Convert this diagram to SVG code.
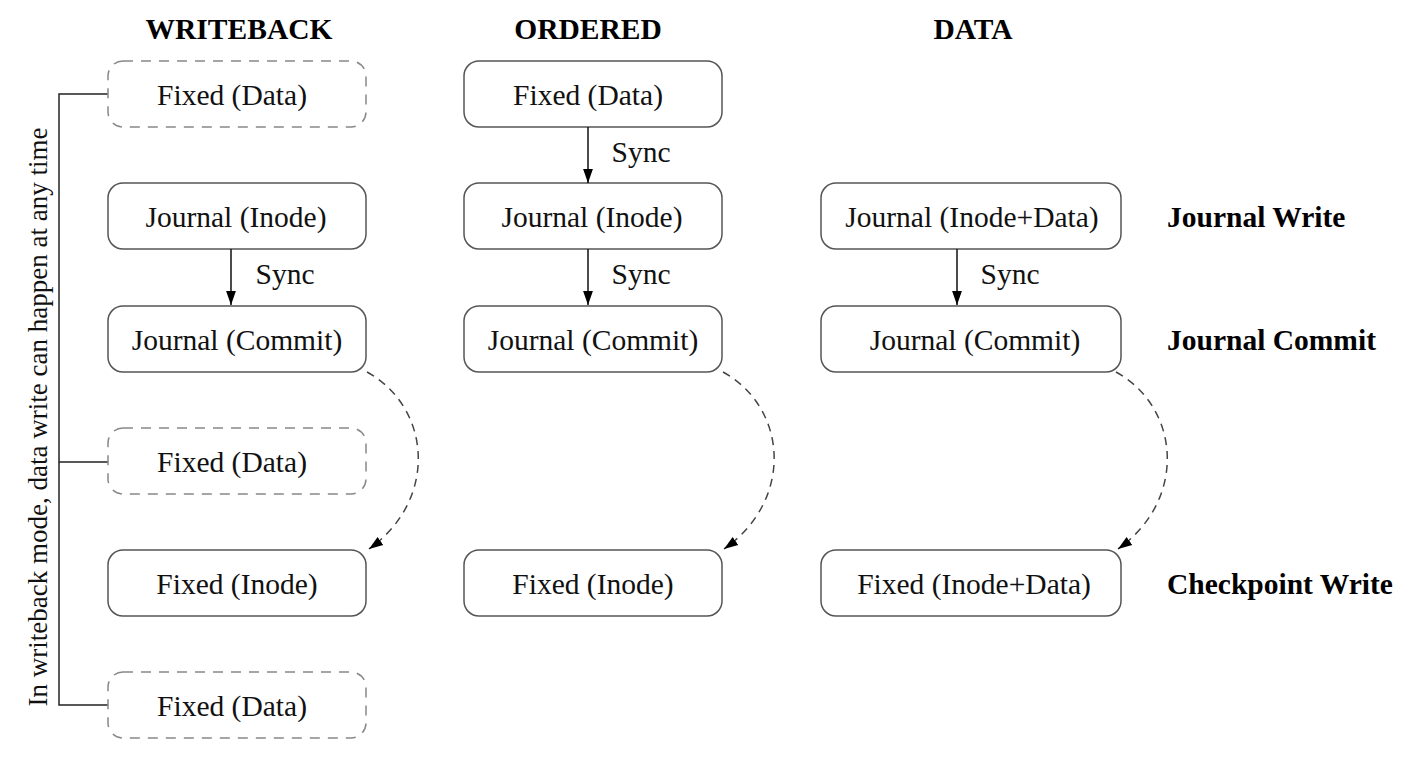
<svg xmlns="http://www.w3.org/2000/svg" width="1418" height="760" viewBox="0 0 1418 760">
<style>
.t{font-family:"Liberation Serif","Times New Roman",serif;font-size:29.5px;fill:#111;text-anchor:middle}
.v{font-family:"Liberation Serif","Times New Roman",serif;font-size:27px;fill:#111;text-anchor:middle}
.b{font-family:"Liberation Serif","Times New Roman",serif;font-size:29.5px;font-weight:bold;fill:#000}
.box{fill:#fff;stroke:#555;stroke-width:1.5}
.dbox{fill:#fff;stroke:#888;stroke-width:1.5;stroke-dasharray:10 8}
.arr{stroke:#111;stroke-width:1.5;fill:none;marker-end:url(#ah)}
.cur{stroke:#444;stroke-width:1.5;fill:none;stroke-dasharray:8 6;marker-end:url(#ah)}
.br{stroke:#222;stroke-width:1.5;fill:none}
</style>
<defs>
<marker id="ah" viewBox="0 0 10 10" refX="10" refY="5" markerWidth="14" markerHeight="14" markerUnits="userSpaceOnUse" orient="auto">
<path d="M0,1.5 L10,5 L0,8.5 z" fill="#000"/>
</marker>
</defs>
<rect width="1418" height="760" fill="#fff"/>
<g id="titles">
<text class="b" x="239" y="39" text-anchor="middle">WRITEBACK</text>
<text class="b" x="588" y="39" text-anchor="middle">ORDERED</text>
<text class="b" x="973" y="39" text-anchor="middle">DATA</text>
<text class="b" x="1167" y="227">Journal Write</text>
<text class="b" x="1167" y="350">Journal Commit</text>
<text class="b" x="1167" y="594">Checkpoint Write</text>
</g>
<g id="bracket">
<path class="br" d="M108,94 H59 V705 H108 M59,462 H108"/>
<text class="v" transform="translate(47,417) rotate(-90)">In writeback mode, data write can happen at any time</text>
</g>
<g id="wb-fixed-data-1"><rect class="dbox" x="108" y="61" width="258" height="66" rx="15"/><text class="t" x="232" y="105">Fixed (Data)</text></g>
<g id="wb-journal-inode"><rect class="box" x="108" y="183" width="258" height="66" rx="15"/><text class="t" x="236" y="227">Journal (Inode)</text></g>
<g id="wb-journal-commit"><rect class="box" x="108" y="306" width="258" height="66" rx="15"/><text class="t" x="237" y="350">Journal (Commit)</text></g>
<g id="wb-fixed-data-2"><rect class="dbox" x="108" y="428" width="258" height="66" rx="15"/><text class="t" x="232" y="472">Fixed (Data)</text></g>
<g id="wb-fixed-inode"><rect class="box" x="108" y="550" width="258" height="66" rx="15"/><text class="t" x="237" y="594">Fixed (Inode)</text></g>
<g id="wb-fixed-data-3"><rect class="dbox" x="108" y="672" width="258" height="66" rx="15"/><text class="t" x="232" y="716">Fixed (Data)</text></g>

<g id="or-fixed-data"><rect class="box" x="464" y="61" width="258" height="66" rx="15"/><text class="t" x="588" y="105">Fixed (Data)</text></g>
<g id="or-journal-inode"><rect class="box" x="464" y="183" width="258" height="66" rx="15"/><text class="t" x="592" y="227">Journal (Inode)</text></g>
<g id="or-journal-commit"><rect class="box" x="464" y="306" width="258" height="66" rx="15"/><text class="t" x="593" y="350">Journal (Commit)</text></g>
<g id="or-fixed-inode"><rect class="box" x="464" y="550" width="258" height="66" rx="15"/><text class="t" x="593" y="594">Fixed (Inode)</text></g>

<g id="da-journal-inode-data"><rect class="box" x="821" y="183" width="300" height="66" rx="15"/><text class="t" x="972" y="227">Journal (Inode+Data)</text></g>
<g id="da-journal-commit"><rect class="box" x="821" y="306" width="300" height="66" rx="15"/><text class="t" x="975" y="350">Journal (Commit)</text></g>
<g id="da-fixed-inode-data"><rect class="box" x="821" y="550" width="300" height="66" rx="15"/><text class="t" x="974" y="594">Fixed (Inode+Data)</text></g>

<g id="connectors">
<line class="arr" x1="231" y1="249" x2="231" y2="305"/>
<line class="arr" x1="588" y1="127" x2="588" y2="183"/>
<line class="arr" x1="588" y1="249" x2="588" y2="305"/>
<line class="arr" x1="957" y1="249" x2="957" y2="305"/>
<text class="t" x="285" y="284">Sync</text>
<text class="t" x="641" y="162">Sync</text>
<text class="t" x="641" y="284">Sync</text>
<text class="t" x="1010" y="284">Sync</text>
<path class="cur" d="M367,372 C432,408 438,500 369,549"/>
<path class="cur" d="M723,372 C788,408 794,500 724,549"/>
<path class="cur" d="M1116,372 C1181,408 1187,500 1118,549"/>
</g>
</svg>
